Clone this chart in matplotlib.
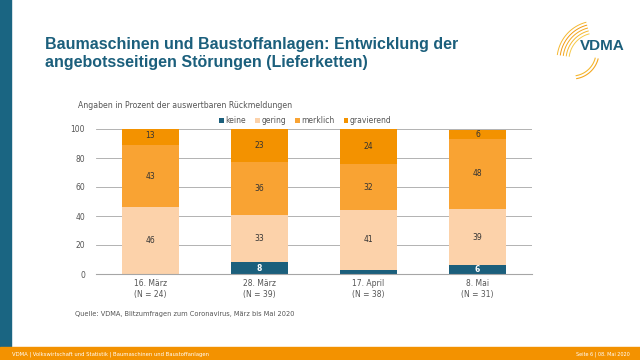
import matplotlib.pyplot as plt
import matplotlib.patches as mpatches
import numpy as np

# data
dates = ["16. März", "28. März", "17. April", "8. Mai"]
n_counts = [24, 39, 38, 31]
keine = [0, 8, 3, 6]
gering = [46, 33, 41, 39]
merklich = [43, 36, 32, 48]
gravierend = [13, 23, 24, 6]
series_names = ["keine", "gering", "merklich", "gravierend"]

colours = ["#1b5f7c", "#fcd2aa", "#f9a333", "#f39200"]
teal = "#1b5f7c"

fig = plt.figure(figsize=(6.4, 3.6), dpi=100)
fig.patch.set_facecolor("white")

# left teal stripe and orange footer
fig.add_artist(mpatches.Rectangle((0, 13 / 360), 11 / 640, 1, transform=fig.transFigure,
                                  color="#1a6582", zorder=0))
fig.add_artist(mpatches.Rectangle((0, 0), 1, 13 / 360, transform=fig.transFigure,
                                  color="#f39200", zorder=0))
fig.text(12 / 640, 6 / 360, "VDMA | Volkswirtschaft und Statistik | Baumaschinen und Baustoffanlagen",
         color="white", fontsize=3.8, va="center", ha="left")
fig.text(630 / 640, 6 / 360, "Seite 6 | 08. Mai 2020", color="white", fontsize=3.5,
         va="center", ha="right")

# title
fig.text(45 / 640, 1 - 44 / 360, "Baumaschinen und Baustoffanlagen: Entwicklung der",
         color=teal, fontsize=11.5, fontweight="bold", va="center", family="Liberation Sans")
fig.text(45 / 640, 1 - 62 / 360, "angebotsseitigen Störungen (Lieferketten)",
         color=teal, fontsize=11.5, fontweight="bold", va="center", family="Liberation Sans")

# logo, drawn in pixel coordinates
fig.text(602 / 640, 1 - 46 / 360, "VDMA", color=teal, fontsize=11, fontweight="bold",
         ha="center", va="center", family="Liberation Sans")
lax = fig.add_axes([540 / 640, 1 - 85 / 360, 100 / 640, 70 / 360])
lax.axis("off")
lax.set_xlim(540, 640)
lax.set_ylim(85, 15)
arc_cols = ["#f7c948", "#f5b830", "#f4a820", "#f39a10", "#f5b830"]
for k, r in enumerate([27, 30, 33, 36, 39]):
    th = np.radians(np.linspace(105, 172, 60))
    lax.plot(596 + r * np.cos(th), 60 - r * np.sin(th), color=arc_cols[k], lw=0.7)
th = np.radians(np.linspace(-80, -15, 40))
for k, r in enumerate([24, 27]):
    lax.plot(572 + r * np.cos(th), 52 - r * np.sin(th), color=arc_cols[k + 1], lw=0.8)

fig.text(78 / 640, 1 - 105 / 360, "Angaben in Prozent der auswertbaren Rückmeldungen",
         color="#555555", fontsize=5.6, va="center")

ax = fig.add_axes([96 / 640, 1 - 274 / 360, 436 / 640, 145 / 360])
x = np.arange(len(dates))
width = 0.53
bottom = np.zeros(len(dates))
data = [keine, gering, merklich, gravierend]
for name, vals, col in zip(series_names, data, colours):
    vals = np.array(vals, dtype=float)
    ax.bar(x, vals, width, bottom=bottom, color=col, label=name, zorder=2)
    for xi, b, v in zip(x, bottom, vals):
        if v >= 5:
            txt_col = "white" if name == "keine" else "#333333"
            ax.text(xi, b + v / 2, f"{int(v)}", ha="center", va="center",
                    fontsize=5.5, color=txt_col, fontweight="bold" if name == "keine" else "normal",
                    zorder=3)
    bottom += vals

ax.set_xlim(-0.5, 3.5)
ax.set_ylim(0, 100)
ax.set_yticks([0, 20, 40, 60, 80, 100])
ax.yaxis.grid(True, color="#a6a6a6", lw=0.6, zorder=0)
ax.set_axisbelow(True)
for s in ["top", "right", "left"]:
    ax.spines[s].set_visible(False)
ax.spines["bottom"].set_color("#a6a6a6")
ax.spines["bottom"].set_linewidth(0.8)
ax.tick_params(axis="both", length=0, labelsize=5.5, labelcolor="#555555")
ax.tick_params(axis="y", pad=8)
ax.set_xticks(x)
ax.set_xticklabels([f"{d}\n(N = {n})" for d, n in zip(dates, n_counts)], linespacing=1.3)

ax.legend(loc="lower center", bbox_to_anchor=(0.48, 1.0), ncol=4, frameon=False,
          fontsize=5.5, handlelength=0.6, handleheight=0.6, handletextpad=0.2,
          columnspacing=1.2, borderaxespad=0.1, labelcolor="#555555")

fig.text(75 / 640, 1 - 314 / 360, "Quelle: VDMA, Blitzumfragen zum Coronavirus, März bis Mai 2020",
         color="#555555", fontsize=4.8, va="center")

fig.savefig("out.png", dpi=100)
